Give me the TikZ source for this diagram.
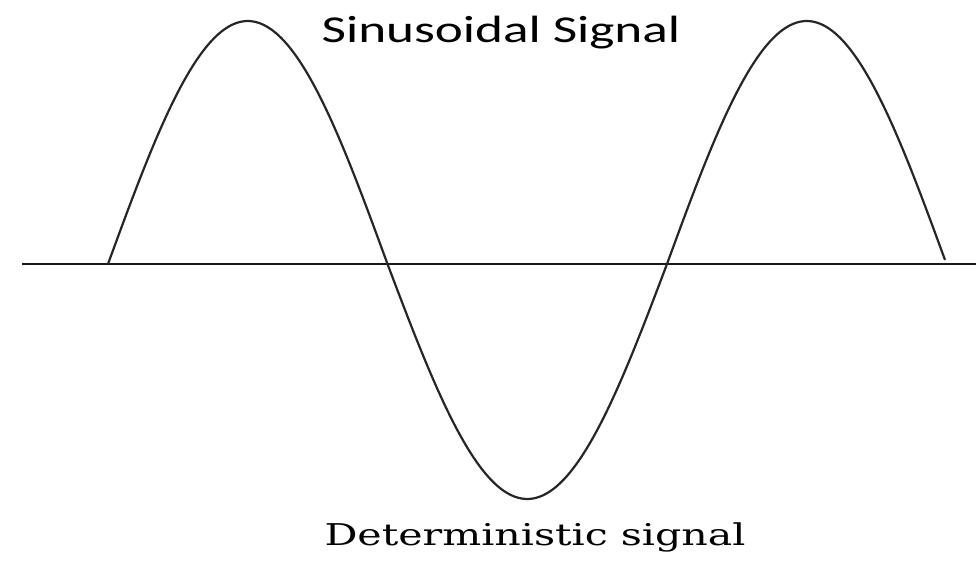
\documentclass[tikz,border=0pt]{standalone}
\usepackage{fontspec}
\usepackage{graphicx}
\newfontfamily\titlefont{Carlito}
\newfontfamily\capfont{DejaVu Serif}
\begin{document}
\begin{tikzpicture}[x=1pt,y=-1pt,
  curve/.style={line width=2.2pt,color=black!85},
  axisline/.style={line width=2.4pt,color=black!90},
  lbl/.style={inner sep=0pt,anchor=base}]
\useasboundingbox (0,0) rectangle (976,563);
\coordinate (axL) at (22,264);
\coordinate (axR) at (976,264);
\draw[axisline] (axL) -- (axR);
\draw[curve,smooth] plot[domain=108:387.5,samples=80] (\x,{264-243*sin((\x-108)/279.5*180)});
\draw[curve,smooth] plot[domain=387.5:666.5,samples=80] (\x,{264-235*sin((\x-108)/279.5*180)});
\draw[curve,smooth] plot[domain=666.5:945,samples=80] (\x,{264-243*sin((\x-108)/279.5*180)});
\node[lbl] (title) at (501,42) {\scalebox{1.4}[1]{\titlefont\fontsize{38}{40}\selectfont Sinusoidal Signal}};
\node[lbl] (cap) at (535,545) {\scalebox{1.37}[1]{\capfont\fontsize{30}{34}\selectfont Deterministic signal}};
\end{tikzpicture}
\end{document}
